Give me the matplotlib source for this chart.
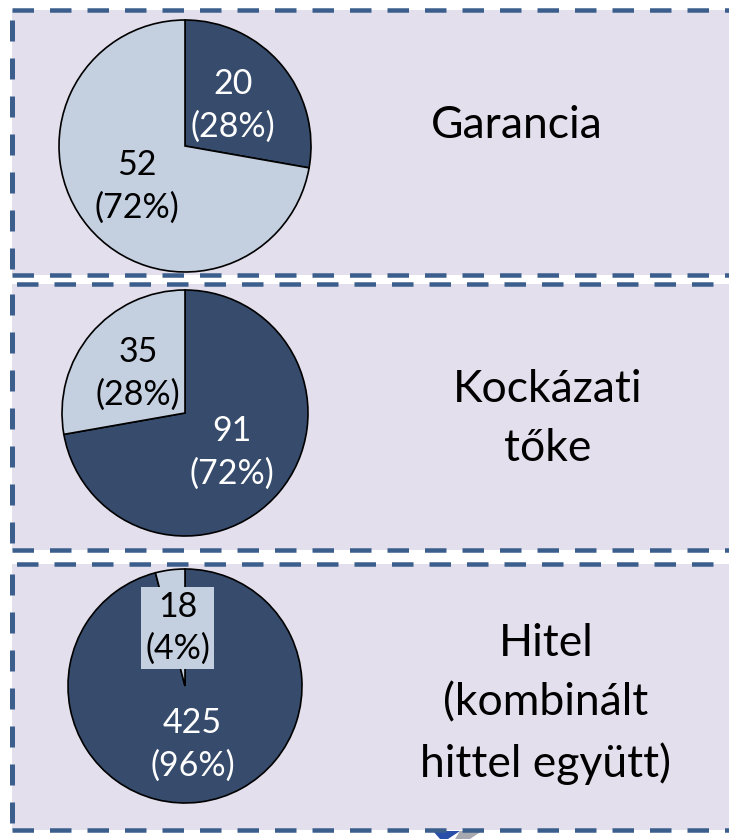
import numpy as np
import matplotlib
matplotlib.use("Agg")
import matplotlib.pyplot as plt
from matplotlib.patches import Rectangle, Polygon
from matplotlib.lines import Line2D

# data
titles = ["Garancia", "Kockázati\ntőke", "Hitel\n(kombinált\nhittel együtt)"]
dark_values = [20, 91, 425]
light_values = [52, 35, 18]

W, H = 729, 839
DARK = "#374C6C"
LIGHT = "#C4CFE0"
BG = "#E4DFEC"
DASH = "#3B5E8C"

plt.rcParams['font.family'] = ['Lato', 'DejaVu Sans']
plt.rcParams['lines.scale_dashes'] = False

fig = plt.figure(figsize=(W / 100, H / 100), dpi=100)
fig.patch.set_facecolor("white")


def fx(x):
    return x / W


def fy(y):
    return 1 - y / H


def pt(px):
    return px * 72 / 100


# panel layout in pixels: (top, bottom), pie centre y, pie radius, title centre
panels = [(10, 275), (284, 550), (564, 830)]
pie_cy = [146, 413, 686]
pie_r = [126, 123, 117]
title_pos = [(517, 126), (548, 419), (546, 704)]
pie_cx = 185

h_dash = (pt(21.5), pt(16))
v_dash = (pt(21), pt(17))
offsets = [0, pt(33), pt(33)]

for i, (top, bot) in enumerate(panels):
    # lavender background
    fig.add_artist(Rectangle((fx(12), fy(bot)), fx(W + 20 - 12), fy(top) - fy(bot),
                             transform=fig.transFigure, facecolor=BG, edgecolor="none", zorder=0))
    # dashed border: top, bottom, left
    for j, y in enumerate((top, bot)):
        off = offsets[i] if j == 0 else 0
        fig.add_artist(Line2D([fx(12), fx(W + 10)], [fy(y), fy(y)], transform=fig.transFigure,
                              color=DASH, lw=pt(4.5), linestyle=(off, h_dash),
                              dash_capstyle="butt", zorder=1))
    fig.add_artist(Line2D([fx(12), fx(12)], [fy(top + 10), fy(bot)], transform=fig.transFigure,
                          color=DASH, lw=pt(5), linestyle=(0, v_dash),
                          dash_capstyle="butt", zorder=1))

# cut-off logo pieces under the last panel
fig.add_artist(Polygon([[fx(433), fy(831)], [fx(460), fy(831)], [fx(448), fy(839)], [fx(440), fy(839)]],
                       closed=True, transform=fig.transFigure, facecolor="#2A4FA8",
                       edgecolor="none", zorder=0.5))
fig.add_artist(Polygon([[fx(460), fy(831)], [fx(482), fy(831)], [fx(470), fy(839)], [fx(455), fy(839)]],
                       closed=True, transform=fig.transFigure, facecolor="#A8A8B0",
                       edgecolor="none", zorder=0.5))

for i in range(3):
    r = pie_r[i]
    cy = pie_cy[i]
    size = 2.5 * r
    ax = fig.add_axes([fx(pie_cx - size / 2), fy(cy + size / 2), fx(size), size / H])
    vals = [dark_values[i], light_values[i]]
    total = sum(vals)
    wedges, texts, autotexts = ax.pie(
        vals, colors=[DARK, LIGHT], startangle=90, counterclock=False,
        autopct=lambda p, t=total: "{}\n({:.0f}%)".format(int(round(p * t / 100)), p),
        pctdistance=0.5, wedgeprops=dict(edgecolor="black", linewidth=1.2),
        textprops=dict(fontsize=24.5, linespacing=1.4))
    ax.set_xlim(-1.25, 1.25)
    ax.set_ylim(-1.25, 1.25)
    autotexts[0].set_color("white")
    autotexts[1].set_color("black")
    if i == 2:
        autotexts[1].set_bbox(dict(facecolor=LIGHT, edgecolor="none", pad=3))
    ax.patch.set_alpha(0)

    tx, ty = title_pos[i]
    fig.text(fx(tx), fy(ty), titles[i], ha="center", va="center",
             fontsize=32, linespacing=1.55, color="black", zorder=5)

fig.savefig("out.png", dpi=100, facecolor=fig.get_facecolor())
